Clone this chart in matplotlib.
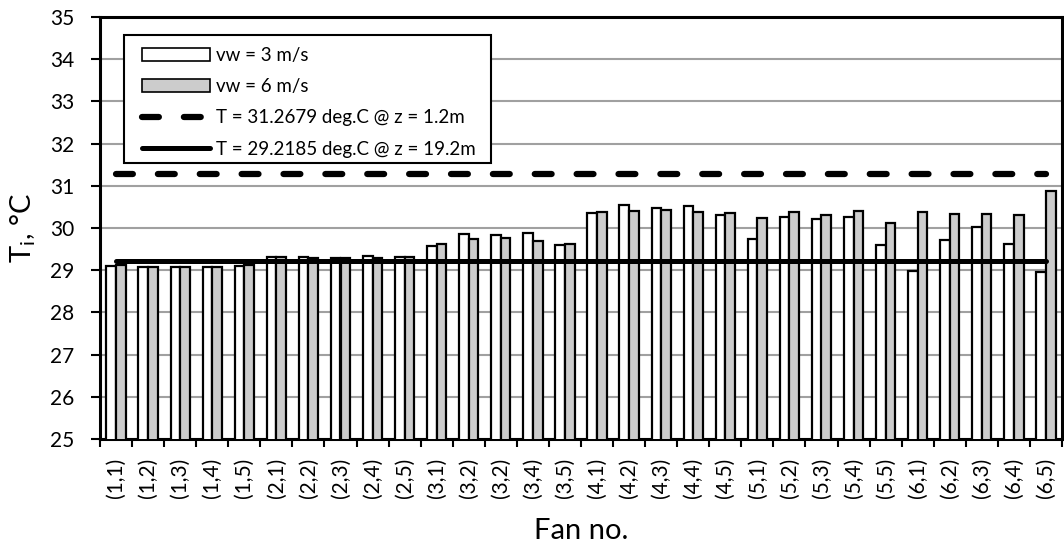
import matplotlib
matplotlib.use("Agg")
import matplotlib.pyplot as plt
import numpy as np
from matplotlib.patches import Patch, Rectangle
from matplotlib.lines import Line2D

plt.rcParams['font.family'] = ['Lato', 'DejaVu Sans']

fans = ["(1,1)", "(1,2)", "(1,3)", "(1,4)", "(1,5)",
        "(2,1)", "(2,2)", "(2,3)", "(2,4)", "(2,5)",
        "(3,1)", "(3,2)", "(3,2)", "(3,4)", "(3,5)",
        "(4,1)", "(4,2)", "(4,3)", "(4,4)", "(4,5)",
        "(5,1)", "(5,2)", "(5,3)", "(5,4)", "(5,5)",
        "(6,1)", "(6,2)", "(6,3)", "(6,4)", "(6,5)"]
vw3 = [29.09, 29.07, 29.07, 29.07, 29.09,
       29.31, 29.31, 29.28, 29.34, 29.31,
       29.58, 29.86, 29.84, 29.89, 29.60,
       30.35, 30.55, 30.47, 30.51, 30.30,
       29.74, 30.27, 30.21, 30.26, 29.59,
       28.98, 29.71, 30.02, 29.61, 28.96]
vw6 = [29.12, 29.07, 29.07, 29.07, 29.12,
       29.31, 29.30, 29.28, 29.28, 29.31,
       29.62, 29.73, 29.76, 29.69, 29.63,
       30.39, 30.41, 30.43, 30.37, 30.35,
       30.23, 30.39, 30.31, 30.41, 30.12,
       30.39, 30.33, 30.34, 30.31, 30.88]
t_low = 31.2679
t_high = 29.2185

W, H = 1064, 548
fig = plt.figure(figsize=(W/100, H/100), dpi=100)
ax = fig.add_axes([100/W, (H-439)/H, 962/W, 422/H])

def axx(px):
    return (px - 100) / 962

def axy(py):
    return (439 - py) / 422

x = np.arange(len(fans))
w = 0.3
gray = '#CCCCCC'
dash = (2.7, 4.0)
ax.bar(x - w/2, vw3, width=w, bottom=0, color='white', edgecolor='black', linewidth=1.6, zorder=3)
ax.bar(x + w/2, vw6, width=w, bottom=0, color=gray, edgecolor='black', linewidth=1.6, zorder=3)
ax.plot([x[0], x[-1]], [t_low, t_low], color='black', linewidth=4.5,
        dashes=dash, dash_capstyle='round', zorder=4)
ax.plot([x[0], x[-1]], [t_high, t_high], color='black', linewidth=3.6,
        solid_capstyle='round', zorder=4)

ax.set_xlim(-0.5, len(fans) - 0.5)
ax.set_ylim(25, 35)
ax.set_yticks(range(25, 36))
ax.yaxis.grid(True, color='#A0A0A0', linewidth=1.5, zorder=0)
ax.set_axisbelow(True)
ax.set_xticks(x)
ax.set_xticklabels(fans, rotation=90, fontsize=15)
ax.set_xticks(np.arange(-0.5, len(fans)), minor=True)
ax.tick_params(axis='x', which='major', length=0, pad=13.5)
ax.tick_params(axis='x', which='minor', length=5.5, width=1.5, direction='out')
ax.tick_params(axis='y', length=6.5, width=1.5, labelsize=15, pad=12)
for s in ax.spines.values():
    s.set_linewidth(2.2)
    s.set_color('black')

ax.set_ylabel(r'T$_\mathregular{i}$, °C', fontsize=21, va='center')
ax.yaxis.set_label_coords(-0.080, 0.5)
ax.set_xlabel('Fan no.', fontsize=21, va='center')
ax.xaxis.set_label_coords(0.5, axy(531))

# legend frame
ax.add_patch(Rectangle((axx(124), axy(163)), axx(491) - axx(124), axy(35) - axy(163),
                       transform=ax.transAxes, facecolor='white', edgecolor='black',
                       linewidth=1.5, zorder=4.5))
handles = [Patch(facecolor='white', edgecolor='black', linewidth=1.2),
           Patch(facecolor=gray, edgecolor='black', linewidth=1.2),
           Line2D([], [], color='black', linewidth=4.5, dashes=dash, dash_capstyle='round'),
           Line2D([], [], color='black', linewidth=3.6, solid_capstyle='round')]
labels = ['vw = 3 m/s', 'vw = 6 m/s',
          'T = 31.2679 deg.C @ z = 1.2m', 'T = 29.2185 deg.C @ z = 19.2m']
leg = ax.legend(handles, labels, loc='upper left', bbox_to_anchor=(axx(142), axy(47)),
                fontsize=13.5, handlelength=3.6, handleheight=0.65, handletextpad=0.36,
                labelspacing=0.76, borderpad=0, borderaxespad=0, frameon=False)
leg.set_zorder(5)

fig.savefig('out.png', dpi=100)
